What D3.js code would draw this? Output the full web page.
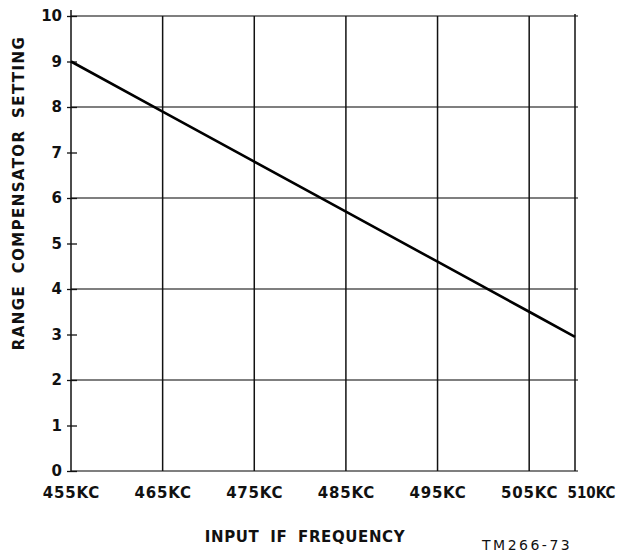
<!DOCTYPE html>
<html>
<head>
<meta charset="utf-8">
<script src="https://cdn.jsdelivr.net/npm/d3@7"></script>
<style>
	body { margin: 0; background: #fff; }
	svg { display: block; }
	text { font-family: "DejaVu Sans", sans-serif; fill: #111; }
</style>
</head>
<body>
<div class="chart-container"></div>
<script>
// Data
const freqTicks = [455, 465, 475, 485, 495, 505, 510];
const settingTicks = [0, 1, 2, 3, 4, 5, 6, 7, 8, 9, 10];
const gridSettings = [0, 2, 4, 6, 8, 10];
const lineFreq = [455, 465, 475, 485, 495, 505, 510];
const lineSetting = [9.0, 7.9, 6.8, 5.7, 4.6, 3.5, 2.95];

const xTitle = 'INPUT IF FREQUENCY';
const yTitle = 'RANGE COMPENSATOR SETTING';
const figLabel = 'TM266-73';

// Dimensions
const W = 617, H = 553;
const margin = {top: 16, right: 42, bottom: 82, left: 71};
const width = W - margin.left - margin.right;
const height = H - margin.top - margin.bottom;

// Scales
const xScale = d3.scaleLinear().domain([455, 510]).range([0, width]);
const yScale = d3.scaleLinear().domain([0, 10]).range([height, 0]);

const svg = d3.select('.chart-container')
	.append('svg')
	.attr('width', W)
	.attr('height', H);

const g = svg.append('g')
	.attr('transform', `translate(${margin.left}, ${margin.top})`);

// Horizontal grid lines (even settings only)
g.append('g')
	.attr('class', 'hgrid')
	.selectAll('line')
	.data(gridSettings)
	.join('line')
	.attr('x1', 0)
	.attr('x2', width + 3)
	.attr('y1', d => yScale(d))
	.attr('y2', d => yScale(d))
	.attr('stroke', '#555')
	.attr('stroke-width', 1.4);

// Vertical grid lines
g.append('g')
	.attr('class', 'vgrid')
	.selectAll('line')
	.data(freqTicks)
	.join('line')
	.attr('x1', d => xScale(d))
	.attr('x2', d => xScale(d))
	.attr('y1', d => d === 455 ? -6 : (d === 510 ? -2 : 0))
	.attr('y2', height)
	.attr('stroke', '#111')
	.attr('stroke-width', 1.5);

// X axis labels
const xAxis = d3.axisBottom(xScale)
	.tickValues(freqTicks)
	.tickFormat(d => d + 'KC')
	.tickSize(0)
	.tickPadding(16);

const xAxisDraw = g.append('g')
	.attr('class', 'x axis')
	.attr('transform', `translate(0, ${height})`)
	.call(xAxis);
xAxisDraw.select('.domain').remove();
xAxisDraw.selectAll('text')
	.style('font-size', '15px')
	.style('font-weight', 'bold')
	.style('letter-spacing', '0.8px')
	.style('font-family', '"DejaVu Sans", sans-serif')
	.attr('fill', '#111');
// last label sits right of its line, narrower, as in the original
xAxisDraw.selectAll('text')
	.filter(d => d === 510)
	.attr('text-anchor', 'start')
	.attr('dx', -8)
	.style('font-family', '"DejaVu Sans Condensed", "DejaVu Sans", sans-serif')
	.style('font-size', '15px')
	.style('letter-spacing', '0px');

// Y axis with short ticks crossing the axis
const yAxis = d3.axisLeft(yScale)
	.tickValues(settingTicks)
	.tickFormat(d3.format('d'))
	.tickSizeInner(4)
	.tickSizeOuter(0)
	.tickPadding(5);

const yAxisDraw = g.append('g')
	.attr('class', 'y axis')
	.call(yAxis);
yAxisDraw.select('.domain').remove();
yAxisDraw.selectAll('.tick line')
	.attr('x2', -4)
	.attr('x1', 6)
	.attr('stroke', '#111')
	.attr('stroke-width', 1.3);
yAxisDraw.selectAll('text')
	.style('font-size', '15px')
	.style('font-weight', 'bold')
	.style('font-family', '"DejaVu Sans", sans-serif')
	.attr('fill', '#111');

// Data line
const line = d3.line()
	.x((d, i) => xScale(lineFreq[i]))
	.y(d => yScale(d));

g.append('path')
	.datum(lineSetting)
	.attr('fill', 'none')
	.attr('stroke', '#000')
	.attr('stroke-width', 2.6)
	.attr('d', line);

// Titles
svg.append('text')
	.attr('x', 305)
	.attr('y', 542)
	.attr('text-anchor', 'middle')
	.style('font-size', '15px')
	.style('font-weight', 'bold')
	.style('letter-spacing', '0.6px')
	.style('word-spacing', '5px')
	.text(xTitle);

svg.append('text')
	.attr('transform', 'translate(24, 193) rotate(-90)')
	.attr('text-anchor', 'middle')
	.style('font-size', '15px')
	.style('font-weight', 'bold')
	.style('letter-spacing', '1.4px')
	.style('word-spacing', '5px')
	.text(yTitle);

svg.append('text')
	.attr('x', 482)
	.attr('y', 550)
	.style('font-size', '14px')
	.style('letter-spacing', '2.5px')
	.text(figLabel);
</script>
</body>
</html>
